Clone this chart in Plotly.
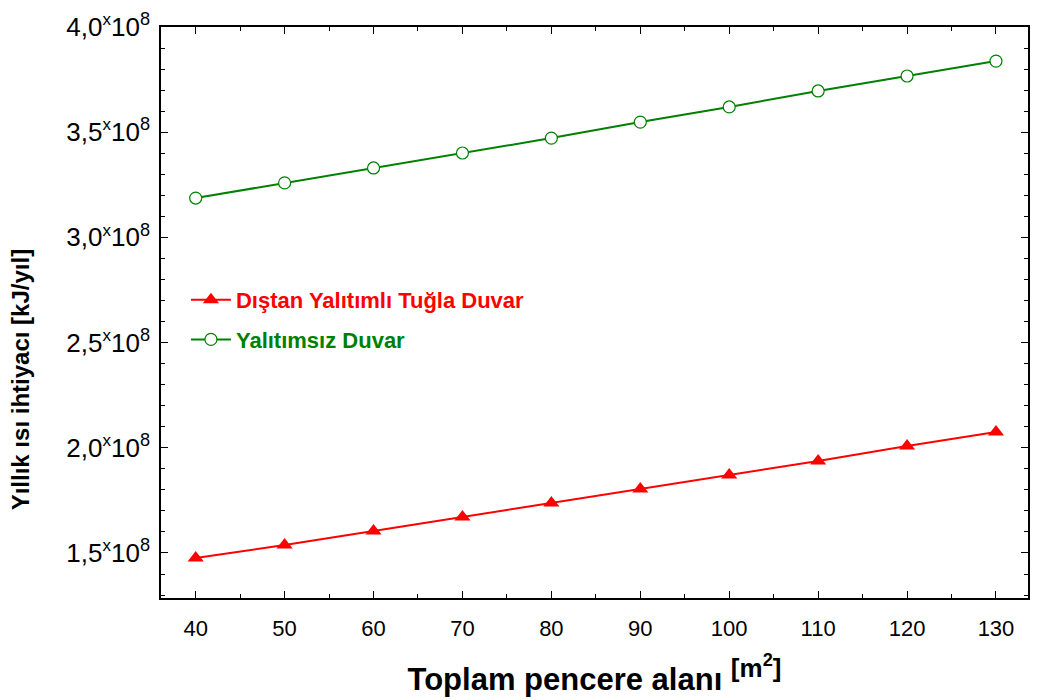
import plotly.graph_objects as go

# ---- data ----
pencere_alani = [40, 50, 60, 70, 80, 90, 100, 110, 120, 130]
yalitimli = [1.476e8, 1.538e8, 1.605e8, 1.671e8, 1.738e8, 1.804e8, 1.871e8, 1.937e8, 2.009e8, 2.075e8]
yalitimsiz = [3.187e8, 3.259e8, 3.330e8, 3.401e8, 3.472e8, 3.548e8, 3.620e8, 3.696e8, 3.767e8, 3.838e8]
y_tick_vals = [1.5e8, 2.0e8, 2.5e8, 3.0e8, 3.5e8, 4.0e8]
y_tick_text = ["1,5", "2,0", "2,5", "3,0", "3,5", "4,0"]
x_tick_vals = [40, 50, 60, 70, 80, 90, 100, 110, 120, 130]
series_names = ["Dıştan Yalıtımlı Tuğla Duvar", "Yalıtımsız Duvar"]
y_label = "Yıllık ısı ihtiyacı [kJ/yıl]"
x_label = "Toplam pencere alanı"

W, H = 1039, 700
L, R, T, B = 161, 9, 27, 102
RED = "#ff0000"
GREEN = "#008000"
FONT = "Arial, Liberation Sans, sans-serif"

fig = go.Figure()
fig.add_trace(go.Scatter(
    x=pencere_alani, y=yalitimli, mode="lines+markers",
    name=f"<b><span style='color:{RED}'>{series_names[0]}</span></b>",
    legendgroup="a",
    line=dict(color=RED, width=2),
    marker=dict(symbol="triangle-up", size=14, color=RED),
))
fig.add_trace(go.Scatter(
    x=pencere_alani, y=yalitimsiz, mode="lines+markers",
    name=f"<b><span style='color:{GREEN}'>{series_names[1]}</span></b>",
    legendgroup="b",
    line=dict(color=GREEN, width=2),
    marker=dict(symbol="circle", size=12, color="white", line=dict(color=GREEN, width=1.2)),
))

ticktext = [f"{t}<sup><span style='font-size:17px'>x</span></sup>10<sup>8</sup>" for t in y_tick_text]

axis_common = dict(
    showgrid=False, zeroline=False, showline=True, linecolor="black", linewidth=1.5,
    mirror="allticks", ticks="inside", tickcolor="black", ticklen=7, tickwidth=1,
)
fig.update_xaxes(
    range=[36.1, 133.6], tickvals=x_tick_vals,
    tickfont=dict(family=FONT, size=22, color="black"),
    ticklabelstandoff=10,
    minor=dict(dtick=5, tick0=0, ticks="inside", ticklen=4, tickcolor="black"),
    title=dict(text=f"<b>{x_label} <sup><span style='font-size:26px'>[m<sup>2</sup>]</span></sup></b>",
               font=dict(family=FONT, size=31, color="black"), standoff=28),
    **axis_common,
)
fig.update_yaxes(
    range=[1.286e8, 4.0e8], tickvals=y_tick_vals, ticktext=ticktext,
    tickfont=dict(family=FONT, size=26, color="black"),
    ticklabelstandoff=4,
    minor=dict(dtick=0.1e8, tick0=0, ticks="inside", ticklen=4, tickcolor="black"),
    **axis_common,
)

fig.update_layout(
    width=W, height=H,
    margin=dict(l=L, r=R, t=T, b=B),
    paper_bgcolor="white", plot_bgcolor="white",
    showlegend=True,
    legend=dict(
        x=(186 - L) / (W - L - R), y=(H - B - 279) / (H - T - B),
        xanchor="left", yanchor="top", bgcolor="rgba(0,0,0,0)",
        font=dict(family=FONT, size=22),
        traceorder="grouped", tracegroupgap=8, itemwidth=40,
    ),
    annotations=[dict(
        text=f"<b>{y_label}</b>", textangle=-90,
        x=(20 - L) / (W - L - R), y=(H - B - 380) / (H - T - B),
        xref="paper", yref="paper", showarrow=False, xanchor="center", yanchor="middle",
        font=dict(family=FONT, size=24, color="black"),
    )],
)

fig.write_html("out.html")
